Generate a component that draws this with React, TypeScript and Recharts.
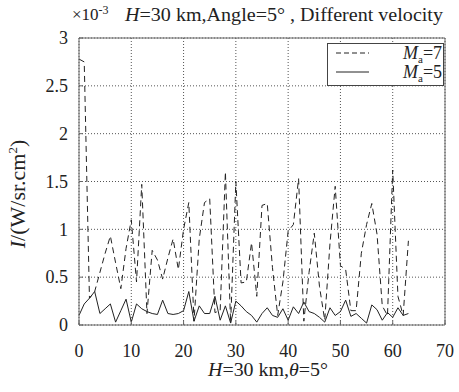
import React from 'react';
import {
  LineChart,
  Line,
  XAxis,
  YAxis,
  CartesianGrid,
  Legend,
  Label,
} from 'recharts';

const steps = [
  0, 1, 2, 3, 4, 5, 6, 7, 8, 9, 10, 11, 12, 13, 14, 15, 16, 17, 18, 19, 20, 21,
  22, 23, 24, 25, 26, 27, 28, 29, 30, 31, 32, 33, 34, 35, 36, 37, 38, 39, 40,
  41, 42, 43, 44, 45, 46, 47, 48, 49, 50, 51, 52, 53, 54, 55, 56, 57, 58, 59,
  60, 61, 62, 63,
];

// intensity, in units of 1e-3 W/sr.cm2
const ma7 = [
  2.78, 2.75, 0.28, 0.35, 0.55, 0.75, 0.93, 0.65, 0.38, 0.8, 1.1, 0.45, 1.47,
  0.12, 0.78, 0.68, 0.48, 0.7, 0.9, 0.58, 1.0, 1.28, 0.04, 0.9, 1.28, 1.32,
  0.13, 0.15, 1.6, 0.02, 1.5, 0.44, 0.45, 0.86, 0.3, 1.25, 1.27, 0.6, 0.1,
  0.45, 0.98, 1.05, 1.53, 0.04, 0.55, 0.96, 0.4, 0.05, 0.85, 1.45, 0.62, 0.58,
  0.15, 0.15, 0.75, 1.05, 1.27, 0.95, 0.2, 0.1, 1.62, 0.3, 0.1, 0.88,
];

const ma5 = [
  0.1, 0.22, 0.28, 0.35, 0.12, 0.17, 0.22, 0.03, 0.15, 0.27, 0.03, 0.22, 0.17,
  0.14, 0.12, 0.11, 0.26, 0.12, 0.11, 0.12, 0.15, 0.35, 0.04, 0.2, 0.12, 0.12,
  0.3, 0.05, 0.2, 0.02, 0.25, 0.2, 0.14, 0.1, 0.03, 0.12, 0.18, 0.1, 0.08,
  0.17, 0.05, 0.19, 0.12, 0.24, 0.14, 0.12, 0.08, 0.03, 0.18, 0.1, 0.14, 0.26,
  0.09, 0.12, 0.07, 0.02, 0.21, 0.16, 0.05, 0.13, 0.08, 0.18, 0.1, 0.12,
];

const xTicks = [0, 10, 20, 30, 40, 50, 60, 70];
const yTicks = [0, 0.5, 1, 1.5, 2, 2.5, 3];

const data = steps.map((x, i) => ({x, ma7: ma7[i], ma5: ma5[i]}));

const FONT = '"Liberation Serif", "Times New Roman", serif';
const INK = '#222';
const FRAME = '#666';

const TitleLabel = () => (
  <g style={{fontFamily: FONT}} fill={INK}>
    <text x={72} y={20} fontSize={17}>
      ×10<tspan dy={-6} fontSize={12}>-3</tspan>
    </text>
    <text
      x={125}
      y={21}
      fontSize={19}
      textLength={318}
      lengthAdjust='spacingAndGlyphs'
    >
      <tspan fontStyle='italic'>H</tspan>=30 km,Angle=5° , Different velocity
    </text>
  </g>
);

const XTitle = () => (
  <text
    x={208}
    y={376}
    fontSize={19}
    style={{fontFamily: FONT}}
    fill={INK}
    textLength={120}
    lengthAdjust='spacingAndGlyphs'
  >
    <tspan fontStyle='italic'>H</tspan>=30 km,<tspan fontStyle='italic'>θ</tspan>
    =5°
  </text>
);

const YTitle = () => (
  <text
    x={25}
    y={194}
    fontSize={22}
    style={{fontFamily: FONT}}
    fill={INK}
    textAnchor='middle'
    transform='rotate(-90 25 194)'
  >
    <tspan fontStyle='italic'>I</tspan>/(W/sr.cm<tspan dy={-8} fontSize={13}>2</tspan>
    <tspan dy={8}>)</tspan>
  </text>
);

const LegendBox = () => (
  <svg width={117} height={43} style={{display: 'block', fontFamily: FONT}}>
    <rect x={0.5} y={0.5} width={116} height={42} fill='#fff' stroke='#444' />
    <line x1={9} x2={42} y1={10} y2={10} stroke={INK} strokeDasharray='5 3' />
    <line x1={9} x2={42} y1={29} y2={29} stroke={INK} />
    <text x={76} y={16} fontSize={18} fill={INK}>
      <tspan fontStyle='italic'>M</tspan>
      <tspan dy={4} fontSize={11}>a</tspan>
      <tspan dy={-4}>=7</tspan>
    </text>
    <text x={76} y={35} fontSize={18} fill={INK}>
      <tspan fontStyle='italic'>M</tspan>
      <tspan dy={4} fontSize={11}>a</tspan>
      <tspan dy={-4}>=5</tspan>
    </text>
  </svg>
);

const XTick = (props: any) => (
  <text
    x={props.x}
    y={props.y}
    dy='0.71em'
    textAnchor='middle'
    fontSize={18}
    fill={INK}
    style={{fontFamily: FONT}}
  >
    {props.payload.value}
  </text>
);

const YTick = (props: any) => (
  <text
    x={props.x}
    y={props.y}
    dy='0.35em'
    textAnchor='end'
    fontSize={18}
    fill={INK}
    style={{fontFamily: FONT}}
  >
    {props.payload.value}
  </text>
);

export default function App() {
  return (
    <div
      style={{
        position: 'absolute',
        left: 0,
        top: 0,
        width: 459,
        height: 392,
        background: '#fff',
        fontFamily: FONT,
      }}
    >
      <LineChart
        width={459}
        height={392}
        data={data}
        margin={{top: 28, right: 4, left: 0, bottom: 37}}
      >
        <CartesianGrid
          xAxisId='b'
          yAxisId='l'
          stroke='#555'
          strokeDasharray='1 2'
        />
        <XAxis
          xAxisId='b'
          dataKey='x'
          type='number'
          domain={[0, 70]}
          ticks={xTicks}
          height={30}
          stroke={FRAME}
          tickSize={-4}
          tickMargin={23}
          tick={<XTick />}
          interval={0}
        >
          <Label content={<XTitle />} />
        </XAxis>
        <XAxis
          xAxisId='t'
          orientation='top'
          dataKey='x'
          type='number'
          domain={[0, 70]}
          ticks={xTicks}
          height={10}
          stroke={FRAME}
          tickSize={-4}
          tick={false}
        >
          <Label content={<TitleLabel />} />
        </XAxis>
        <YAxis
          yAxisId='l'
          type='number'
          domain={[0, 3]}
          ticks={yTicks}
          width={79}
          stroke={FRAME}
          tickSize={-4}
          tickMargin={15}
          tick={<YTick />}
          interval={0}
        >
          <Label content={<YTitle />} />
        </YAxis>
        <YAxis
          yAxisId='r'
          orientation='right'
          type='number'
          domain={[0, 3]}
          ticks={yTicks}
          width={10}
          stroke={FRAME}
          tickSize={-4}
          tick={false}
        />
        <Legend
          layout='horizontal'
          verticalAlign='middle'
          align='center'
          content={<LegendBox />}
          wrapperStyle={{left: 327, top: 43, width: 117, height: 43}}
        />
        <Line
          xAxisId='b'
          yAxisId='l'
          type='linear'
          dataKey='ma7'
          name='Ma=7'
          stroke={INK}
          strokeWidth={1}
          strokeDasharray='6 4'
          dot={false}
          isAnimationActive={false}
        />
        <Line
          xAxisId='b'
          yAxisId='l'
          type='linear'
          dataKey='ma5'
          name='Ma=5'
          stroke={INK}
          strokeWidth={1}
          dot={false}
          isAnimationActive={false}
        />
      </LineChart>
    </div>
  );
}
